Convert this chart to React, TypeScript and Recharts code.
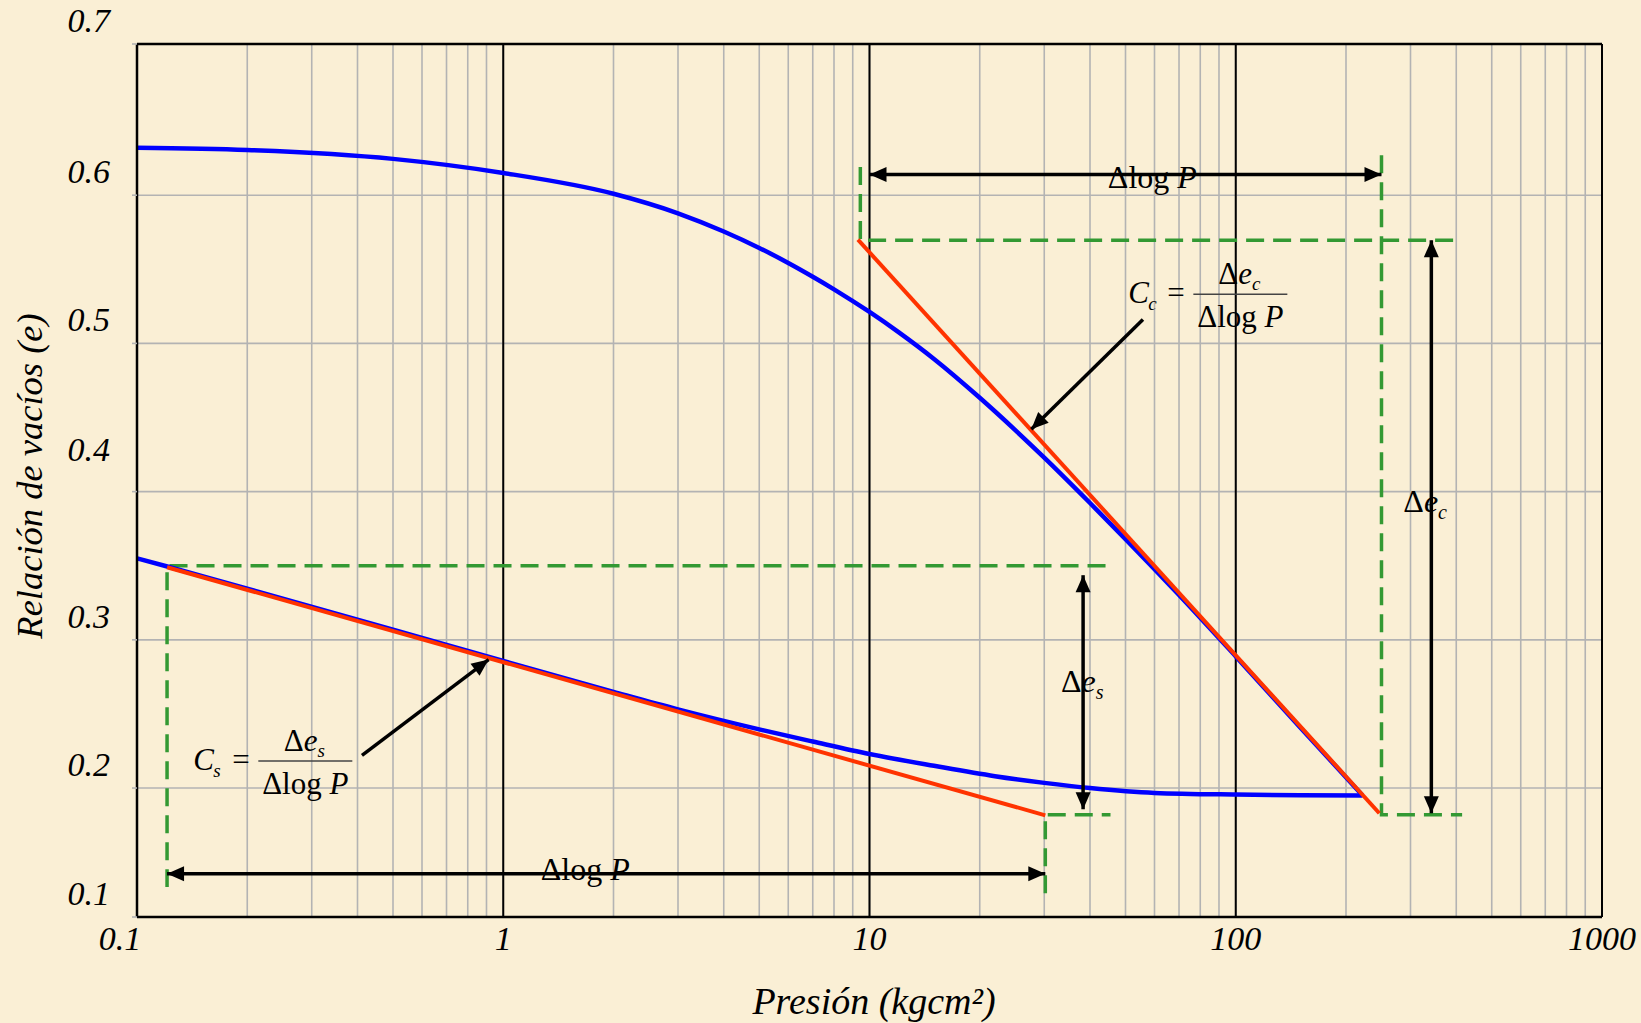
import React from 'react';
import { LineChart, Line, XAxis, YAxis, CartesianGrid, ReferenceLine, ReferenceDot } from 'recharts';

type Pt = { p: number; e: number };

const serif = "'Liberation Serif', 'Times New Roman', serif";

// ejes
const xTicks = [
  0.1, 0.2, 0.3, 0.4, 0.5, 0.6, 0.7, 0.8, 0.9,
  1, 2, 3, 4, 5, 6, 7, 8, 9,
  10, 20, 30, 40, 50, 60, 70, 80, 90,
  100, 200, 300, 400, 500, 600, 700, 800, 900,
  1000,
];
const xMajor = [0.1, 1, 10, 100, 1000];
const xTickLabels = ['0.1', '1', '10', '100', '1000'];
const yMin = 0.113;
const yMax = 0.702;
const yTicks = [0.113, 0.2, 0.3, 0.4, 0.5, 0.6, 0.702];
const yTickLabels = ['0.1', '0.2', '0.3', '0.4', '0.5', '0.6', '0.7'];

// curva de carga
const loadP = [0.1, 0.2, 0.5, 1, 2, 3, 4, 5, 6, 7, 8, 10, 12, 15, 20, 25, 30, 40, 50, 70, 100, 150, 222];
const loadE = [0.632, 0.6305, 0.6245, 0.615, 0.601, 0.5878, 0.5755, 0.5644, 0.5543, 0.545, 0.5365, 0.5212, 0.5076, 0.4895, 0.4633, 0.4415, 0.4229, 0.3923, 0.368, 0.3303, 0.2888, 0.2409, 0.195];

// curva de descarga
const unloadP = [0.1, 0.121, 0.2, 0.5, 1, 2, 3, 5, 7, 10, 15, 22, 30, 40, 60, 100, 150, 222];
const unloadE = [0.355, 0.3495, 0.3345, 0.3069, 0.2857, 0.2649, 0.2531, 0.2396, 0.2314, 0.223, 0.215, 0.208, 0.2035, 0.2, 0.1967, 0.1956, 0.1952, 0.195];

const loadCurve: Pt[] = loadP.map((p, i) => ({ p, e: loadE[i] }));
const unloadCurve: Pt[] = unloadP.map((p, i) => ({ p, e: unloadE[i] }));

// rectas Cc y Cs
const ccLine: Pt[] = [{ p: 9.3, e: 0.57 }, { p: 246.6, e: 0.183 }];
const csLine: Pt[] = [{ p: 0.1208, e: 0.349 }, { p: 30.2, e: 0.1816 }];

// guias discontinuas
const greenCcTop: Pt[] = [{ p: 9.44, e: 0.619 }, { p: 9.44, e: 0.5696 }, { p: 415, e: 0.5696 }];
const greenCcRight: Pt[] = [{ p: 250, e: 0.627 }, { p: 250, e: 0.182 }, { p: 415, e: 0.182 }];
const greenCsTop: Pt[] = [{ p: 44.1, e: 0.35 }, { p: 0.1208, e: 0.35 }, { p: 0.1208, e: 0.1333 }];
const greenCsRight: Pt[] = [{ p: 30.2, e: 0.129 }, { p: 30.2, e: 0.182 }, { p: 45.5, e: 0.182 }];

// flechas
const arrowLogPTop: Pt[] = [{ p: 10, e: 0.614 }, { p: 250, e: 0.614 }];
const arrowLogPBottom: Pt[] = [{ p: 0.1208, e: 0.1422 }, { p: 30.2, e: 0.1422 }];
const arrowDeltaEc: Pt[] = [{ p: 342, e: 0.5696 }, { p: 342, e: 0.183 }];
const arrowDeltaEs: Pt[] = [{ p: 38.3, e: 0.3436 }, { p: 38.3, e: 0.1857 }];
const arrowCc: Pt[] = [{ p: 55.8, e: 0.5161 }, { p: 27.66, e: 0.4421 }];
const arrowCs: Pt[] = [{ p: 0.4114, e: 0.2221 }, { p: 0.912, e: 0.2867 }];

const majorLines: Pt[][] = [1, 10, 100].map((p) => [{ p, e: yMin }, { p, e: yMax }]);

// small vertical nudge for one y label that sits higher in the original
const yLabelNudge: Record<string, number> = { '0.4': -19 };

const makeArrowDot = (data: Pt[], both: boolean) => {
  let first: { x: number; y: number } | null = null;
  return (props: any) => {
    const { cx, cy, index } = props;
    if (index === 0) first = { x: cx, y: cy };
    if (!both && index === 0) return <g key={`ah-${index}`} />;
    let ang: number;
    const other = props.points?.[1 - index];
    if (other) {
      ang = Math.atan2(cy - other.y, cx - other.x);
    } else if (index === 1 && first) {
      ang = Math.atan2(cy - first.y, cx - first.x);
    } else {
      const a = data[index], b = data[1 - index];
      ang = Math.atan2(-(a.e - b.e), Math.log10(a.p) - Math.log10(b.p));
    }
    const L = 17, W = 7.5;
    const bx = cx - L * Math.cos(ang), by = cy - L * Math.sin(ang);
    const px = -Math.sin(ang) * W, py = Math.cos(ang) * W;
    return (
      <polygon
        key={`ah-${index}`}
        points={`${cx},${cy} ${bx + px},${by + py} ${bx - px},${by - py}`}
        fill="#000"
      />
    );
  };
};

const renderXTick = (props: any) => {
  const { x, y, payload } = props;
  const i = xMajor.indexOf(payload.value);
  if (i < 0) return <g />;
  return (
    <text x={x + (i === 0 ? -17 : 0)} y={y + 33} textAnchor="middle" fontFamily={serif} fontStyle="italic" fontSize={34} fill="#000">
      {xTickLabels[i]}
    </text>
  );
};

const renderYTick = (props: any) => {
  const { x, y, payload } = props;
  const i = yTicks.indexOf(payload.value);
  const label = yTickLabels[i];
  return (
    <text x={x - 22} y={y - 12 + (yLabelNudge[label] ?? 0)} textAnchor="end" fontFamily={serif} fontStyle="italic" fontSize={34} fill="#000">
      {label}
    </text>
  );
};

const DeltaLogP = (props: any) => (
  <text x={props.cx} y={props.cy} textAnchor="middle" fontFamily={serif} fontSize={32} fill="#000">
    Δlog <tspan fontStyle="italic">P</tspan>
  </text>
);

const DeltaE = (sub: string) => (props: any) => (
  <text x={props.cx} y={props.cy} textAnchor="middle" fontFamily={serif} fontSize={32} fill="#000">
    <tspan>Δ</tspan>
    <tspan fontStyle="italic">e</tspan>
    <tspan fontStyle="italic" fontSize={20} dy={7}>{sub}</tspan>
  </text>
);

const Fraction = (sub: string) => (props: any) => {
  const { cx, cy } = props;
  return (
    <g fontFamily={serif} fill="#000">
      <text x={cx - 65} y={cy + 9} fontSize={31} fontStyle="italic">C</text>
      <text x={cx - 45} y={cy + 16} fontSize={19} fontStyle="italic">{sub}</text>
      <text x={cx - 26} y={cy + 9} fontSize={31}>=</text>
      <line x1={cx} x2={cx + 94} y1={cy} y2={cy} stroke="#444" strokeWidth={1.5} />
      <text x={cx + 46} y={cy - 10} textAnchor="middle" fontSize={31}>
        <tspan>Δ</tspan>
        <tspan fontStyle="italic">e</tspan>
        <tspan fontStyle="italic" fontSize={19} dy={6}>{sub}</tspan>
      </text>
      <text x={cx + 47} y={cy + 33} textAnchor="middle" fontSize={31}>
        Δlog <tspan fontStyle="italic">P</tspan>
      </text>
    </g>
  );
};

const lineBase = { dataKey: 'e', dot: false, activeDot: false, isAnimationActive: false, type: 'linear' as const };

export default function App() {
  return (
    <div style={{ position: 'fixed', left: 0, top: 0, width: 1641, height: 1023, background: '#faefd5', overflow: 'hidden' }}>
      <LineChart width={1641} height={1023} margin={{ top: 44, right: 39, bottom: 0, left: 0 }}>
        <CartesianGrid stroke="#b3b3b3" strokeWidth={1.6} />
        <XAxis
          dataKey="p"
          type="number"
          scale="log"
          domain={[0.1, 1000]}
          ticks={xTicks}
          interval={0}
          allowDataOverflow
          height={106}
          tickLine={false}
          tickSize={0}
          tickMargin={0}
          tick={renderXTick}
          axisLine={{ stroke: '#000', strokeWidth: 2.5 }}
        />
        <YAxis
          type="number"
          domain={[yMin, yMax]}
          ticks={yTicks}
          interval={0}
          allowDataOverflow
          width={137}
          tickSize={5}
          tickMargin={0}
          tickLine={{ stroke: '#b3b3b3', strokeWidth: 1.6 }}
          tick={renderYTick}
          axisLine={{ stroke: '#000', strokeWidth: 2.5 }}
        />
        <ReferenceLine y={yMax} stroke="#000" strokeWidth={2.5} />
        <ReferenceLine x={1000} stroke="#000" strokeWidth={2} />

        {majorLines.map((d, i) => (
          <Line key={`major-${i}`} {...lineBase} data={d} stroke="#000" strokeWidth={2} />
        ))}

        <Line {...lineBase} data={greenCcTop} stroke="#339933" strokeWidth={3.5} strokeDasharray="18 9" />
        <Line {...lineBase} data={greenCcRight} stroke="#339933" strokeWidth={3.5} strokeDasharray="18 9" />
        <Line {...lineBase} data={greenCsTop} stroke="#339933" strokeWidth={3.5} strokeDasharray="18 9" />
        <Line {...lineBase} data={greenCsRight} stroke="#339933" strokeWidth={3.5} strokeDasharray="18 9" />

        <Line {...lineBase} data={loadCurve} type="monotone" stroke="#0000ff" strokeWidth={4.5} />
        <Line {...lineBase} data={unloadCurve} type="monotone" stroke="#0000ff" strokeWidth={4.5} />

        <Line {...lineBase} data={ccLine} stroke="#ff3300" strokeWidth={4} />
        <Line {...lineBase} data={csLine} stroke="#ff3300" strokeWidth={4} />

        <Line {...lineBase} data={arrowLogPTop} stroke="#000" strokeWidth={3.5} dot={makeArrowDot(arrowLogPTop, true)} />
        <Line {...lineBase} data={arrowLogPBottom} stroke="#000" strokeWidth={3.5} dot={makeArrowDot(arrowLogPBottom, true)} />
        <Line {...lineBase} data={arrowDeltaEc} stroke="#000" strokeWidth={3.5} dot={makeArrowDot(arrowDeltaEc, true)} />
        <Line {...lineBase} data={arrowDeltaEs} stroke="#000" strokeWidth={3.5} dot={makeArrowDot(arrowDeltaEs, true)} />
        <Line {...lineBase} data={arrowCc} stroke="#000" strokeWidth={3.5} dot={makeArrowDot(arrowCc, false)} />
        <Line {...lineBase} data={arrowCs} stroke="#000" strokeWidth={3.5} dot={makeArrowDot(arrowCs, false)} />

        <ReferenceDot x={59.2} y={0.6047} r={0} shape={DeltaLogP} />
        <ReferenceDot x={1.675} y={0.1378} r={0} shape={DeltaLogP} />
        <ReferenceDot x={329} y={0.386} r={0} shape={DeltaE('c')} />
        <ReferenceDot x={38.1} y={0.2646} r={0} shape={DeltaE('s')} />
        <ReferenceDot x={76.6} y={0.5332} r={0} shape={Fraction('c')} />
        <ReferenceDot x={0.2144} y={0.2183} r={0} shape={Fraction('s')} />

        <text x={874} y={1014} textAnchor="middle" fontFamily={serif} fontStyle="italic" fontSize={38} fill="#000">
          Presión (kgcm²)
        </text>
        <text x={42} y={476} transform="rotate(-90, 42, 476)" textAnchor="middle" fontFamily={serif} fontStyle="italic" fontSize={36.5} fill="#000">
          Relación de vacíos (e)
        </text>
      </LineChart>
    </div>
  );
}
